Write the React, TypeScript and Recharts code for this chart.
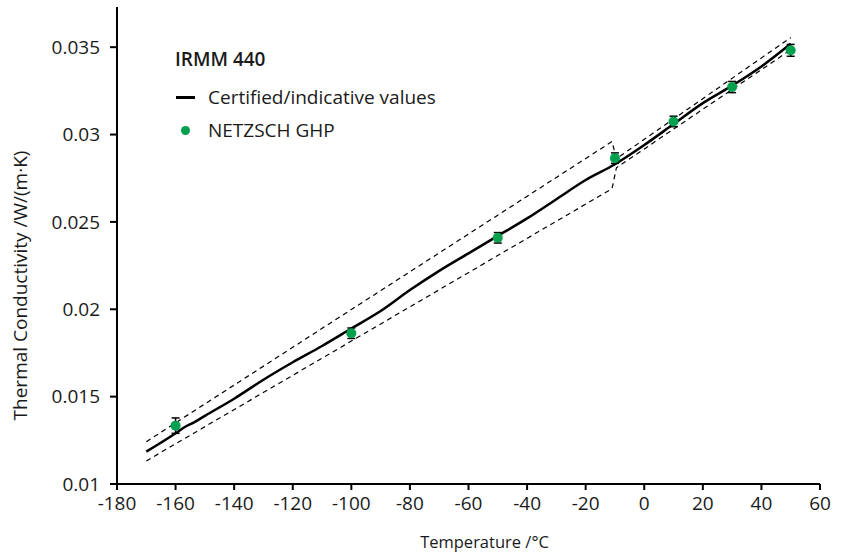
import React from "react";
import {
    ComposedChart,
    Line,
    Scatter,
    ErrorBar,
    XAxis,
    YAxis,
} from "recharts";

// certified / indicative values of IRMM 440
const certTemps = [-170, -160, -157, -154, -150, -140, -130, -120, -110, -100, -90, -80, -70, -60, -50, -40, -30, -20, -10, 0, 10, 20, 30, 40, 50];
const certValues = [0.01185, 0.0129, 0.01325, 0.0135, 0.0139, 0.01488, 0.01597, 0.01697, 0.0179, 0.0189, 0.0199, 0.0211, 0.0222, 0.0232, 0.0242, 0.0252, 0.0263, 0.0274, 0.0283, 0.0294, 0.0306, 0.0318, 0.0328, 0.0339, 0.0352];

// uncertainty band (dashed)
const upperTemps = [-170, -11, -9.5, 50];
const upperValues = [0.01242, 0.0296, 0.02862, 0.03555];
const lowerTemps = [-170, -11, -9.5, 50];
const lowerValues = [0.01132, 0.0269, 0.0281, 0.03485];

// NETZSCH GHP measurements
const ghpTemps = [-160, -100, -50, -10, 10, 30, 50];
const ghpValues = [0.01334, 0.01863, 0.02409, 0.02865, 0.03075, 0.03272, 0.03482];
const ghpErrors = [0.00044, 0.0003, 0.0003, 0.0003, 0.0003, 0.00032, 0.00034];

const xTicks = [-180, -160, -140, -120, -100, -80, -60, -40, -20, 0, 20, 40, 60];
const yTicks = [0.01, 0.015, 0.02, 0.025, 0.03, 0.035];

const legendTitle = "IRMM 440";
const legendLine = "Certified/indicative values";
const legendDots = "NETZSCH GHP";

const GREEN = "#00a04e";
const INK = "#1a1a1a";
const FONT = "'Open Sans', sans-serif";

const cert = certTemps.map((t, i) => ({ t, k: certValues[i] }));
const upper = upperTemps.map((t, i) => ({ t, k: upperValues[i] }));
const lower = lowerTemps.map((t, i) => ({ t, k: lowerValues[i] }));
const ghp = ghpTemps.map((t, i) => ({ t, k: ghpValues[i], err: ghpErrors[i] }));

const Dot = (props: any) => <circle cx={props.cx} cy={props.cy} r={5} fill={GREEN} />;

export default function App() {
    const tickStyle = { fontSize: 19, fill: INK, fontFamily: FONT };
    const row = { position: "absolute" as const, left: 0, display: "flex", alignItems: "center", height: 24, fontSize: 19, whiteSpace: "nowrap" as const };
    return (
        <div style={{ position: "absolute", left: 0, top: 0, width: 846, height: 553, fontFamily: FONT }}>
            <ComposedChart
                width={846}
                height={553}
                margin={{ top: 7, right: 26, left: 0, bottom: 0 }}
            >
                <XAxis
                    type="number"
                    dataKey="t"
                    domain={[-180, 60]}
                    ticks={xTicks}
                    height={69}
                    stroke="#000"
                    strokeWidth={2}
                    tickSize={6}
                    tickMargin={7}
                    tick={tickStyle}
                    label={{
                        value: "Temperature /°C",
                        position: "insideBottom",
                        offset: 5,
                        dx: 16,
                        style: { fontSize: 16.5, fill: INK, fontFamily: FONT },
                    }}
                />
                <YAxis
                    type="number"
                    dataKey="k"
                    domain={[0.01, 0.0373]}
                    ticks={yTicks}
                    width={117}
                    stroke="#000"
                    strokeWidth={2}
                    tickSize={7}
                    tickMargin={10}
                    tick={tickStyle}
                    label={{
                        value: "Thermal Conductivity /W/(m·K)",
                        angle: -90,
                        position: "insideLeft",
                        offset: 20,
                        dy: 40,
                        style: { textAnchor: "middle", fontSize: 19, fill: INK, fontFamily: FONT },
                    }}
                />
                <Line
                    data={upper}
                    dataKey="k"
                    type="linear"
                    stroke="#000"
                    strokeWidth={1.2}
                    strokeDasharray="5 4"
                    dot={false}
                    isAnimationActive={false}
                />
                <Line
                    data={lower}
                    dataKey="k"
                    type="linear"
                    stroke="#000"
                    strokeWidth={1.2}
                    strokeDasharray="5 4"
                    dot={false}
                    isAnimationActive={false}
                />
                <Line
                    data={cert}
                    dataKey="k"
                    type="monotone"
                    stroke="#000"
                    strokeWidth={2.5}
                    dot={false}
                    isAnimationActive={false}
                />
                <Scatter data={ghp} dataKey="k" shape={Dot} isAnimationActive={false}>
                    <ErrorBar dataKey="err" direction="y" width={4} stroke="#000" strokeWidth={1.5} />
                </Scatter>
            </ComposedChart>

            <div style={{ position: "absolute", left: 175, top: 0, color: INK }}>
                <div style={{ ...row, top: 47, fontWeight: 600 }}>{legendTitle}</div>
                <div style={{ ...row, top: 85 }}>
                    <span style={{ display: "inline-block", width: 19, height: 3, background: "#000", marginLeft: 1, marginRight: 13 }} />
                    {legendLine}
                </div>
                <div style={{ ...row, top: 118 }}>
                    <span style={{ display: "inline-block", width: 9, height: 9, borderRadius: "50%", background: GREEN, marginLeft: 6, marginRight: 18 }} />
                    {legendDots}
                </div>
            </div>
        </div>
    );
}
